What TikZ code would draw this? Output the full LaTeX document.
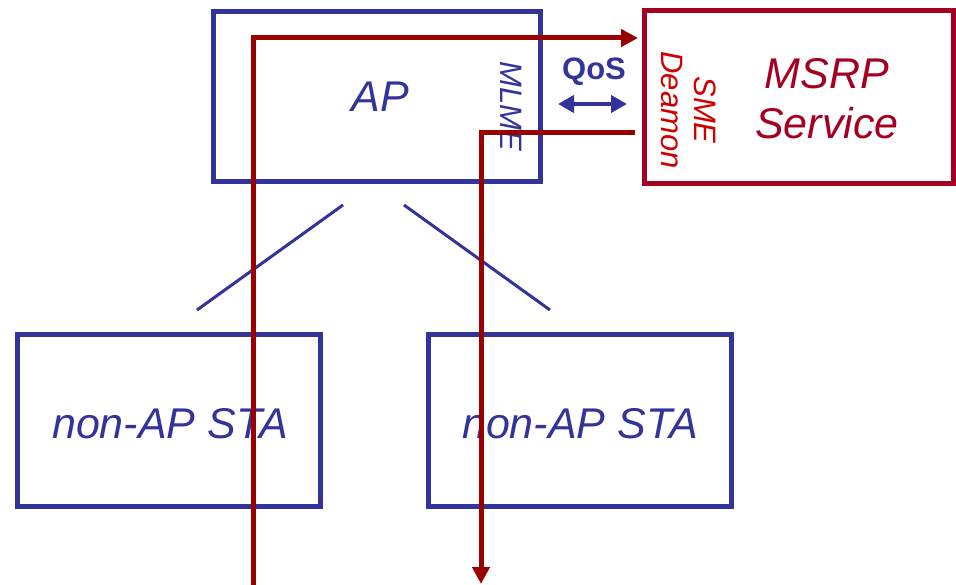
\documentclass[tikz,border=0pt]{standalone}
\usepackage{fontspec}
\setmainfont{Liberation Sans}
\usetikzlibrary{arrows.meta}
\definecolor{apblue}{HTML}{333399}
\definecolor{boxred}{HTML}{A50021}
\definecolor{linered}{HTML}{990000}
\definecolor{smered}{HTML}{D00000}
\begin{document}
\begin{tikzpicture}[x=1pt,y=-1pt,
  bluebox/.style={draw=apblue,line width=5pt},
  redbox/.style={draw=boxred,line width=5pt},
  bigtxt/.style={font=\fontsize{43}{47}\selectfont\itshape},
  flow/.style={draw=linered,line width=5pt,-{Triangle[length=17pt,width=17pt]}},
  link/.style={draw=apblue,line width=3pt}]
\useasboundingbox (0,0) rectangle (956,585);
\draw[bluebox] (213,12) rectangle (540,182);
\draw[redbox] (644,11) rectangle (953,184);
\draw[bluebox] (17,335) rectangle (320,506);
\draw[bluebox] (428,335) rectangle (731,506);
\node[bigtxt,text=apblue] (ap) at (380,97) {AP};
\node[text=boxred,align=center,font=\fontsize{43}{50}\selectfont\itshape] (msrp) at (827,99) {MSRP\\Service};
\node[bigtxt,text=apblue] (sta1) at (170,424) {non-AP STA};
\node[bigtxt,text=apblue] (sta2) at (580,424) {non-AP STA};
\node[text=apblue,rotate=-90,font=\fontsize{31}{34}\selectfont\itshape] (mlme) at (511,106) {MLME};
\node[text=smered,rotate=-90,align=center,font=\fontsize{31}{33}\selectfont\itshape] (sme) at (689,110) {SME\\Deamon};
\node[text=apblue,font=\fontsize{31}{34}\selectfont\bfseries] (qos) at (594,72) {QoS};
\coordinate (qa) at (558,104);
\coordinate (qb) at (627,104);
\draw[draw=apblue,line width=4pt,{Triangle[length=16pt,width=17pt]}-{Triangle[length=16pt,width=17pt]}] (qa) -- (qb);
\coordinate (l1a) at (343,205);
\coordinate (l1b) at (197,310);
\coordinate (l2a) at (404,205);
\coordinate (l2b) at (550,310);
\draw[link] (l1a) -- (l1b);
\draw[link] (l2a) -- (l2b);
\coordinate (upstart) at (253,585);
\coordinate (upend) at (638,38);
\coordinate (dnstart) at (635,133);
\coordinate (dnend) at (481,584);
\draw[flow] (upstart) |- (upend);
\draw[flow] (dnstart) -| (dnend);
\end{tikzpicture}
\end{document}
